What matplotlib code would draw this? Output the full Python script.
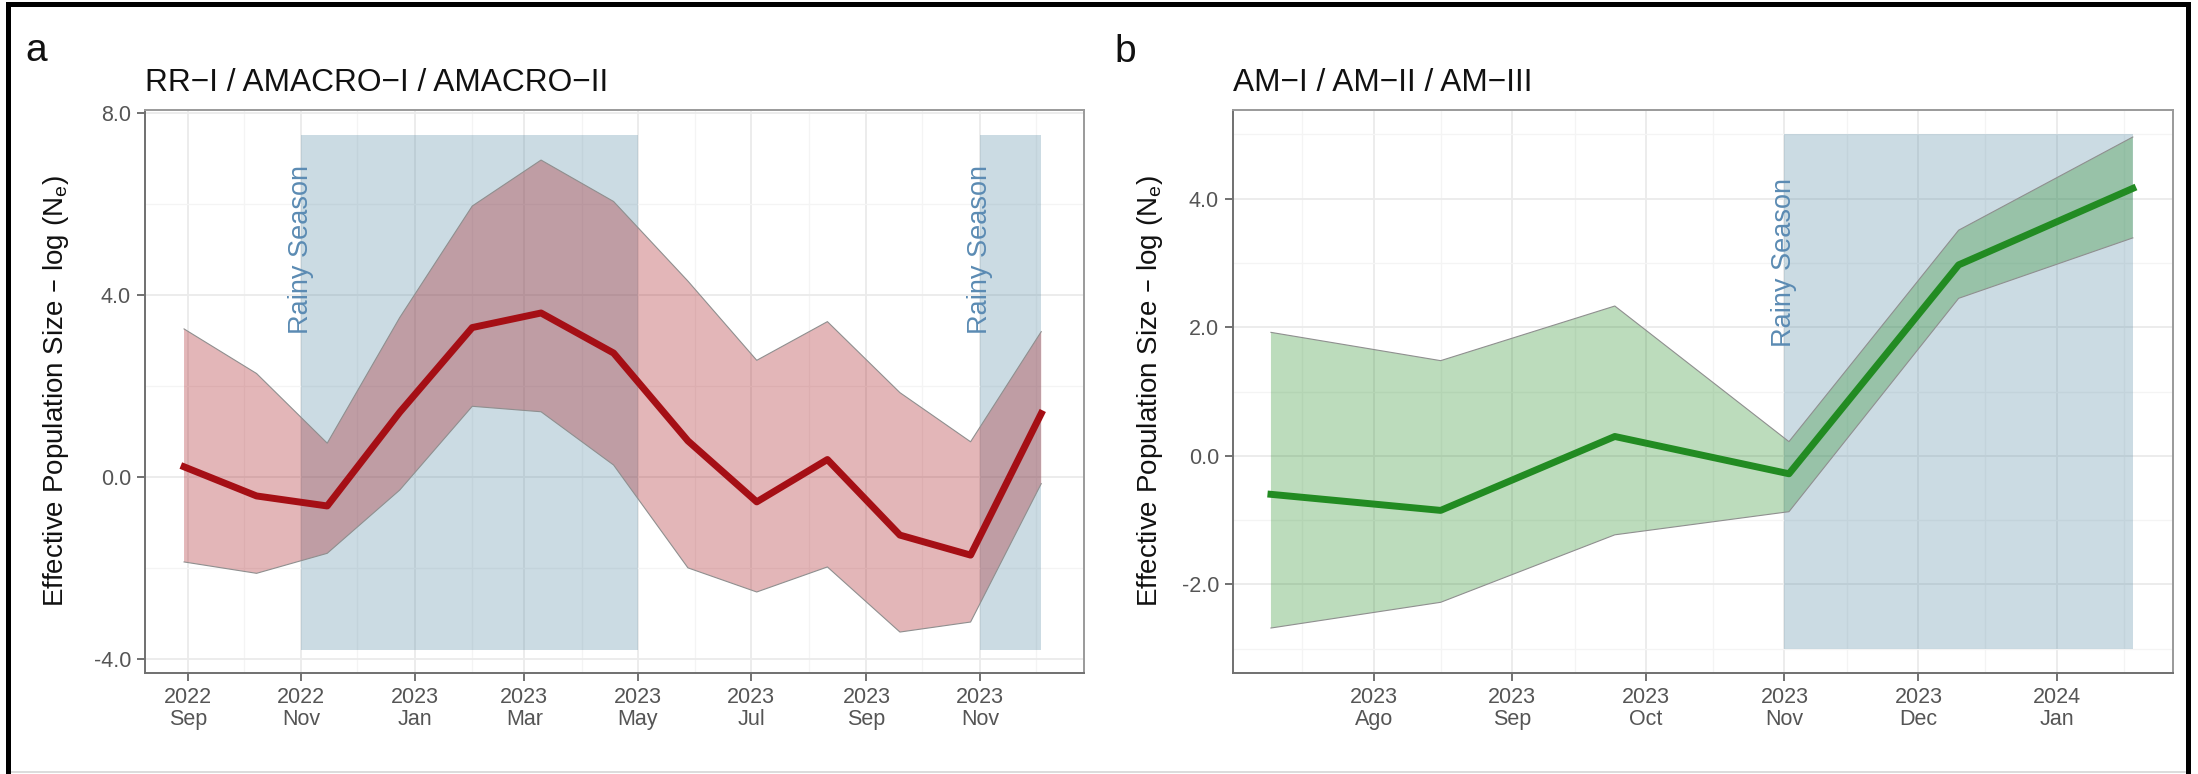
import matplotlib
matplotlib.use("Agg")
import matplotlib.pyplot as plt
import matplotlib.dates as mdates
from matplotlib.patches import Rectangle
from matplotlib.lines import Line2D
import pandas as pd

plt.rcParams['font.family'] = ['Liberation Sans', 'DejaVu Sans']

# ---- panel a : RR-I / AMACRO-I / AMACRO-II
dates_a = pd.to_datetime(["2022-08-30", "2022-10-08", "2022-11-15", "2022-12-24", "2023-02-01",
                          "2023-03-10", "2023-04-18", "2023-05-28", "2023-07-04", "2023-08-11",
                          "2023-09-19", "2023-10-27", "2023-12-04"])
ne_a = [0.22, -0.42, -0.64, 1.42, 3.28, 3.60, 2.72, 0.79, -0.55, 0.38, -1.28, -1.72, 1.39]
upper_a = [3.25, 2.27, 0.74, 3.5, 5.95, 6.96, 6.05, 4.3, 2.56, 3.41, 1.85, 0.77, 3.19]
lower_a = [-1.87, -2.12, -1.68, -0.29, 1.55, 1.43, 0.26, -2.0, -2.53, -1.98, -3.41, -3.19, -0.15]
rainy_a = [("2022-11-01", "2023-05-01"), ("2023-11-01", "2023-12-04")]
rainy_a_y = (-3.8, 7.5)
xticks_a = pd.to_datetime(["2022-09-01", "2022-11-01", "2023-01-01", "2023-03-01",
                           "2023-05-01", "2023-07-01", "2023-09-01", "2023-11-01"])
xlabels_a = ["2022\nSep", "2022\nNov", "2023\nJan", "2023\nMar",
             "2023\nMay", "2023\nJul", "2023\nSep", "2023\nNov"]
yticks_a = [-4, 0, 4, 8]
ylabels_a = ["-4.0", "0.0", "4.0", "8.0"]
yminor_a = [-2, 2, 6]

# ---- panel b : AM-I / AM-II / AM-III
dates_b = pd.to_datetime(["2023-07-09", "2023-08-16", "2023-09-24", "2023-11-02",
                          "2023-12-10", "2024-01-18"])
ne_b = [-0.60, -0.85, 0.30, -0.28, 2.97, 4.16]
upper_b = [1.92, 1.48, 2.33, 0.22, 3.51, 4.96]
lower_b = [-2.68, -2.28, -1.23, -0.87, 2.45, 3.39]
rainy_b = [("2023-11-01", "2024-01-18")]
rainy_b_y = (-3.0, 5.0)
xticks_b = pd.to_datetime(["2023-08-01", "2023-09-01", "2023-10-01", "2023-11-01",
                           "2023-12-01", "2024-01-01"])
xlabels_b = ["2023\nAgo", "2023\nSep", "2023\nOct", "2023\nNov", "2023\nDec", "2024\nJan"]
xminor_b = pd.to_datetime(["2023-07-16", "2023-08-16", "2023-09-15", "2023-10-16",
                           "2023-11-15", "2023-12-16", "2024-01-16"])
yticks_b = [-2, 0, 2, 4]
ylabels_b = ["-2.0", "0.0", "2.0", "4.0"]
yminor_b = [-3, -1, 1, 3, 5]

ylab = "Effective Population Size – log (N$_\\mathregular{e}$)"
rain_col = "#6a98af"
rain_txt = "#5b8bb3"

fig = plt.figure(figsize=(21.98, 7.74), dpi=100)
W, H = 2198, 774


def px_axes(l, r, t, b):
    return fig.add_axes([l / W, 1 - b / H, (r - l) / W, (b - t) / H])


def style(ax):
    for s in ['top', 'right']:
        ax.spines[s].set_color('#9a9a9a')
    for s in ['left', 'bottom']:
        ax.spines[s].set_color('#707070')
    for s in ax.spines.values():
        s.set_linewidth(1.4)
    ax.tick_params(which='major', length=5.8, width=1.3, color='#666666',
                   labelcolor='#555555', labelsize=15.5, pad=4.3)
    ax.tick_params(which='minor', length=0)
    ax.grid(which='major', color='#ebebeb', lw=1.3)
    ax.grid(which='minor', color='#f4f4f4', lw=0.9)
    ax.set_axisbelow(True)


def panel(ax, dates, ne, lo, hi, rainy, ry, text_y, col, title):
    for start, end in rainy:
        ax.fill_between(pd.to_datetime([start, end]), ry[0], ry[1],
                        color=rain_col, alpha=0.35, lw=0, zorder=1)
    ax.fill_between(dates, lo, hi, facecolor=col, alpha=0.3, lw=0, zorder=2)
    ax.plot(dates, hi, color='#8f8f8f', lw=0.8, zorder=2.5)
    ax.plot(dates, lo, color='#8f8f8f', lw=0.8, zorder=2.5)
    ax.plot(dates, ne, color=col, lw=5, zorder=3)
    for start, end in rainy:
        ax.text(pd.Timestamp(start), text_y, "Rainy Season", rotation=90, ha='center',
                va='center', fontsize=19.5, color=rain_txt, zorder=4)
    ax.set_title(title, loc='left', fontsize=22.8, pad=14, color='#111111')
    ax.set_ylabel(ylab, fontsize=20, color='#111111')


# panel a
ax_a = px_axes(145, 1084, 110, 673)
style(ax_a)
panel(ax_a, dates_a, ne_a, lower_a, upper_a, rainy_a, rainy_a_y, 5.0, '#a50f15',
      "RR−I / AMACRO−I / AMACRO−II")
ax_a.set_xlim(pd.Timestamp("2022-08-09"), pd.Timestamp("2023-12-27"))
ax_a.set_ylim(-4.31, 8.06)
ax_a.set_xticks(xticks_a)
ax_a.set_xticklabels(xlabels_a, linespacing=1.05)
ax_a.xaxis.set_minor_locator(mdates.MonthLocator())
ax_a.set_yticks(yticks_a)
ax_a.set_yticklabels(ylabels_a)
ax_a.set_yticks(yminor_a, minor=True)
ax_a.yaxis.set_label_coords(-0.079, 0.5)

# panel b
ax_b = px_axes(1233, 2173, 110, 673)
style(ax_b)
panel(ax_b, dates_b, ne_b, lower_b, upper_b, rainy_b, rainy_b_y, 3.0, '#228b22',
      "AM−I / AM−II / AM−III")
ax_b.set_xlim(pd.Timestamp("2023-06-30 12:00"), pd.Timestamp("2024-01-27"))
ax_b.set_ylim(-3.38, 5.38)
ax_b.set_xticks(xticks_b)
ax_b.set_xticklabels(xlabels_b, linespacing=1.05)
ax_b.set_xticks(xminor_b, minor=True)
ax_b.set_yticks(yticks_b)
ax_b.set_yticklabels(ylabels_b)
ax_b.set_yticks(yminor_b, minor=True)
ax_b.yaxis.set_label_coords(-0.072, 0.5)

# panel letters
fig.text(25 / W, 1 - 61 / H, "a", fontsize=28, va='baseline', color='#111111')
fig.text(1114 / W, 1 - 62 / H, "b", fontsize=28, va='baseline', color='#111111')

# outer frame
fig.patches.append(Rectangle((7.5 / W, -0.05), (2187.5 - 7.5) / W, 1.05 - 3.5 / H,
                             transform=fig.transFigure, fill=False, lw=3.6,
                             edgecolor='black', zorder=10))
fig.lines.append(Line2D([10 / W, 2185 / W], [2 / H, 2 / H], transform=fig.transFigure,
                        color='#d6d6d6', lw=1.2))

plt.savefig("out.png", dpi=100)
plt.close()
